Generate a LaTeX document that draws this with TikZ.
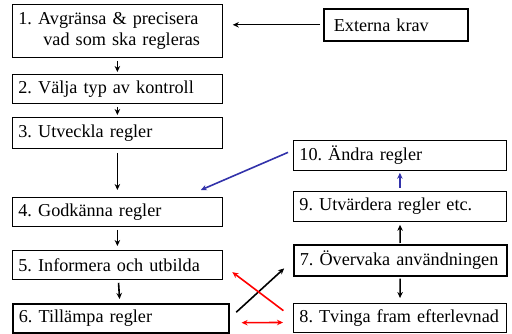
\documentclass[tikz,border=0pt]{standalone}
\usepackage{fontspec}
\setmainfont{Liberation Serif}
\usepackage{tikz}
\usetikzlibrary{arrows.meta,positioning,calc}
\definecolor{darkblue}{RGB}{50,50,170}
\newcommand{\boxfont}{\fontsize{18.2}{21}\selectfont\frenchspacing\hyphenpenalty=10000\relax}

\begin{document}
\begin{tikzpicture}[x=1pt,y=-1pt,
  box/.style={draw,line width=0.8pt,anchor=north west,inner xsep=6pt,inner ysep=0pt,
    minimum height=30pt,align=left,font=\boxfont},
  thickbox/.style={box,line width=1.6pt},
  arr/.style={-{Stealth[length=6pt,width=5.5pt]},line width=1.6pt}]
\useasboundingbox (0,0) rectangle (512,334);
% Left column
\node[box,text width=198pt,minimum height=53pt] (b1) at (12,4)
  {1. Avgränsa \& precisera\\\hspace*{25pt}vad som ska regleras};
\node[box,text width=198pt,minimum height=29pt] (b2) at (12,74) {2. Välja typ av kontroll};
\node[box,text width=198pt,minimum height=31pt] (b3) at (12,117) {3. Utveckla regler};
\node[box,text width=198pt,minimum height=29pt] (b4) at (12,197) {4. Godkänna regler};
\node[box,text width=198pt,minimum height=29pt] (b5) at (12,250) {5. Informera och utbilda};
\node[thickbox,text width=204pt,minimum height=29pt] (b6) at (12,303) {6. Tillämpa regler};
% Right column
\node[thickbox,text width=124pt,inner xsep=10pt,minimum height=32pt] (ext) at (323,8) {Externa krav};
\node[box,text width=201pt] (b10) at (293,140) {10. Ändra regler};
\node[box,text width=201pt] (b9) at (293,191) {9. Utvärdera regler etc.};
\node[thickbox,text width=201pt,minimum height=31pt] (b7) at (293,244) {7. Övervaka användningen};
\node[box,text width=201pt,minimum height=29pt] (b8) at (293,303) {8. Tvinga fram efterlevnad};
% Flow down the left side
\draw[arr,line width=1.2pt] (ext.west) -- (ext.west -| b1.east) [shorten <=3pt,shorten >=10pt];
\draw[arr,shorten <=3pt,shorten >=2pt] (b1) -- (b2);
\draw[arr,shorten <=3pt,shorten >=2pt] (b2) -- (b3);
\draw[arr,shorten <=4pt,shorten >=7pt] (b3) -- (b4);
\draw[arr,shorten <=3pt,shorten >=4pt] (b4) -- (b5);
\draw[arr,shorten <=3pt,shorten >=4pt] (b5) -- (b6);
% Right side
\draw[arr,shorten <=2pt,shorten >=5pt] (b7) -- (b8);
\draw[arr,shorten <=1pt,shorten >=3pt] (b7) -- (b9);
\draw[arr,darkblue,shorten <=3pt,shorten >=2pt] (b9) -- (b10);
\draw[arr,darkblue] ([xshift=-5pt,yshift=3pt]b10.west) -- ([xshift=-22pt,yshift=7pt]b4.north east);
% Crossing arrows
\draw[arr,shorten <=9pt,shorten >=12pt] (b6.east) -- (b7.west);
\draw[arr,red,shorten <=12pt,shorten >=12pt] (b8.west) -- (b5.east);
\draw[{Stealth[length=6pt,width=5.5pt]}-{Stealth[length=6pt,width=5.5pt]},line width=1.6pt,red,
  shorten <=10pt,shorten >=12pt] ([yshift=-4.5pt]b8.west) -- ([yshift=-4.5pt]b6.east);
\end{tikzpicture}
\end{document}
